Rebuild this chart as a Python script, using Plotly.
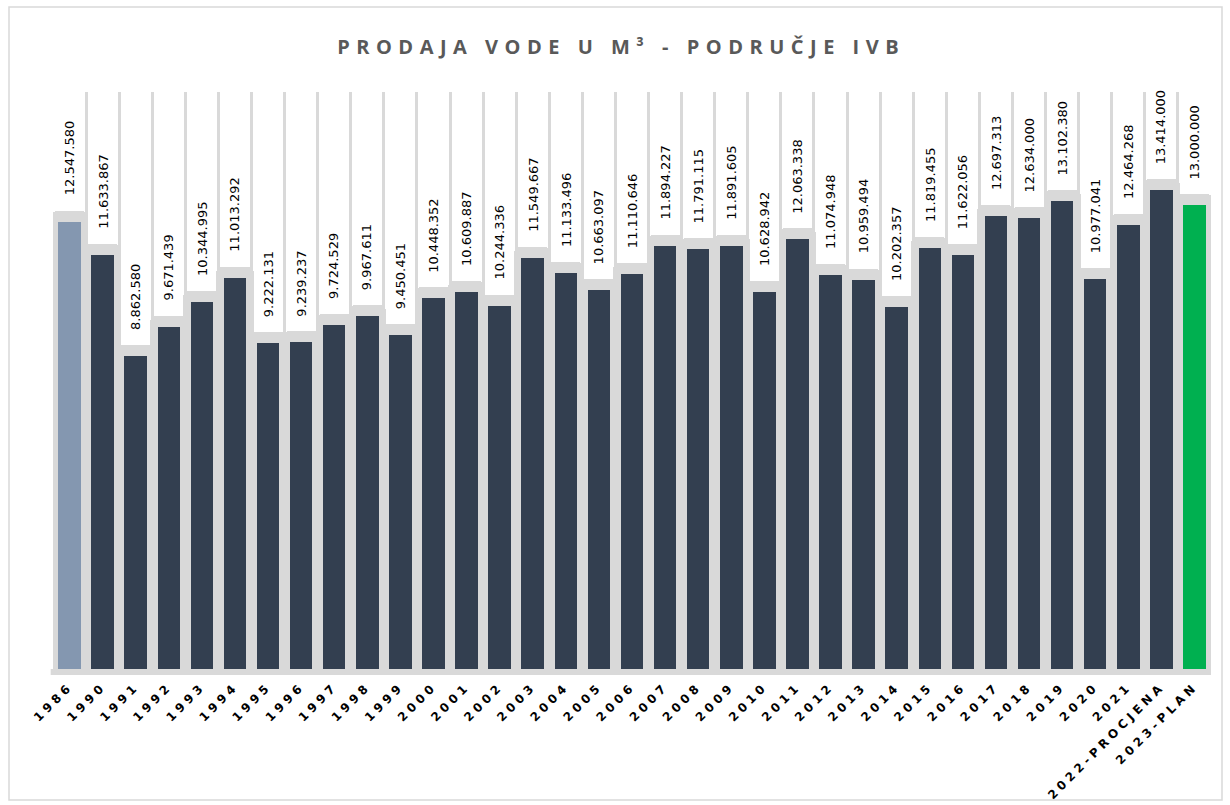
import plotly.graph_objects as go

categories = ["1986", "1990", "1991", "1992", "1993", "1994", "1995", "1996", "1997",
              "1998", "1999", "2000", "2001", "2002", "2003", "2004", "2005", "2006",
              "2007", "2008", "2009", "2010", "2011", "2012", "2013", "2014", "2015",
              "2016", "2017", "2018", "2019", "2020", "2021", "2022-PROCJENA", "2023-PLAN"]
values = [12547580, 11633867, 8862580, 9671439, 10344995, 11013292, 9222131, 9239237,
          9724529, 9967611, 9450451, 10448352, 10609887, 10244336, 11549667, 11133496,
          10663097, 11110646, 11894227, 11791115, 11891605, 10628942, 12063338, 11074948,
          10959494, 10202357, 11819455, 11622056, 12697313, 12634000, 13102380, 10977041,
          12464268, 13414000, 13000000]
value_labels = ["12.547.580", "11.633.867", "8.862.580", "9.671.439", "10.344.995", "11.013.292",
                "9.222.131", "9.239.237", "9.724.529", "9.967.611", "9.450.451", "10.448.352",
                "10.609.887", "10.244.336", "11.549.667", "11.133.496", "10.663.097", "11.110.646",
                "11.894.227", "11.791.115", "11.891.605", "10.628.942", "12.063.338", "11.074.948",
                "10.959.494", "10.202.357", "11.819.455", "11.622.056", "12.697.313", "12.634.000",
                "13.102.380", "10.977.041", "12.464.268", "13.414.000", "13.000.000"]
title_text = "PRODAJA VODE U M³ - PODRUČJE IVB"

DARK = "#333f50"
FIRST = "#8497b0"
PLAN = "#00b050"
HALO = "#d9d9d9"

bar_colors = [FIRST] + [DARK] * (len(categories) - 2) + [PLAN]

W, H = 1230, 805
ML, MR, MT, MB = 53, 19, 92, 130
plot_h = H - MT - MB
px_per_unit = 36.53 / 1e6
YMIN = 5 / px_per_unit
YMAX = YMIN + plot_h / px_per_unit
halo_pad = 11 / px_per_unit

fig = go.Figure()

# gray halo behind each column
fig.add_trace(go.Bar(
    x=categories, y=[v + halo_pad for v in values],
    width=1.12, marker=dict(color=HALO, line=dict(width=0), cornerradius=6),
    hoverinfo="skip", showlegend=False,
))
# main columns
fig.add_trace(go.Bar(
    x=categories, y=values, width=0.68,
    marker=dict(color=bar_colors, line=dict(width=0)),
    showlegend=False,
))

# value labels (category index used as x position)
for i, (v, t) in enumerate(zip(values, value_labels)):
    fig.add_annotation(
        x=i, y=v, text=t, textangle=-90, showarrow=False,
        xanchor="center", yanchor="bottom", yshift=24,
        font=dict(family="DejaVu Sans", size=13, color="#000000"),
    )

ticktext = ['<span style="letter-spacing:4px">' + c + '</span>' for c in categories]

fig.update_layout(
    width=W, height=H,
    margin=dict(l=ML, r=MR, t=MT, b=MB, autoexpand=False),
    paper_bgcolor="white", plot_bgcolor="white",
    barmode="overlay", bargap=0,
    title=dict(
        text='<span style="letter-spacing:6.5px">' + title_text + '</span>',
        x=0.505, xref="container", xanchor="center",
        y=1 - 47 / H, yref="container", yanchor="middle",
        font=dict(family="Open Sans", size=20, color="#595959", weight="bold"),
    ),
    xaxis=dict(
        type="category", tickson="boundaries", showgrid=True, automargin=False,
        gridcolor=HALO, gridwidth=3, showline=False, zeroline=False,
        ticks="", tickangle=-45, ticklabelstandoff=1,
        tickvals=categories, ticktext=ticktext,
        tickfont=dict(family="DejaVu Sans", size=12, color="#000000", weight="bold"),
        range=[-0.5, len(categories) - 0.5],
    ),
    yaxis=dict(range=[YMIN, YMAX], showgrid=False, showticklabels=False, automargin=False,
               zeroline=False, showline=False),
    shapes=[
        # floor
        dict(type="rect", xref="paper", yref="paper", x0=-0.002, x1=1.0, y0=0,
             y1=6 / plot_h, fillcolor=HALO, line=dict(width=0), layer="above"),
        # chart border
        dict(type="rect", xref="paper", yref="paper",
             x0=(9 - ML) / (W - ML - MR), x1=(1222 - ML) / (W - ML - MR),
             y0=-(800 - (H - MB)) / plot_h, y1=((H - MB) - 7) / plot_h,
             line=dict(color=HALO, width=1.5), fillcolor="rgba(0,0,0,0)", layer="below"),
    ],
)

fig.write_html("out.html", config={"displayModeBar": False},
               post_script="document.body.style.margin='0';document.body.style.overflow='hidden';")
